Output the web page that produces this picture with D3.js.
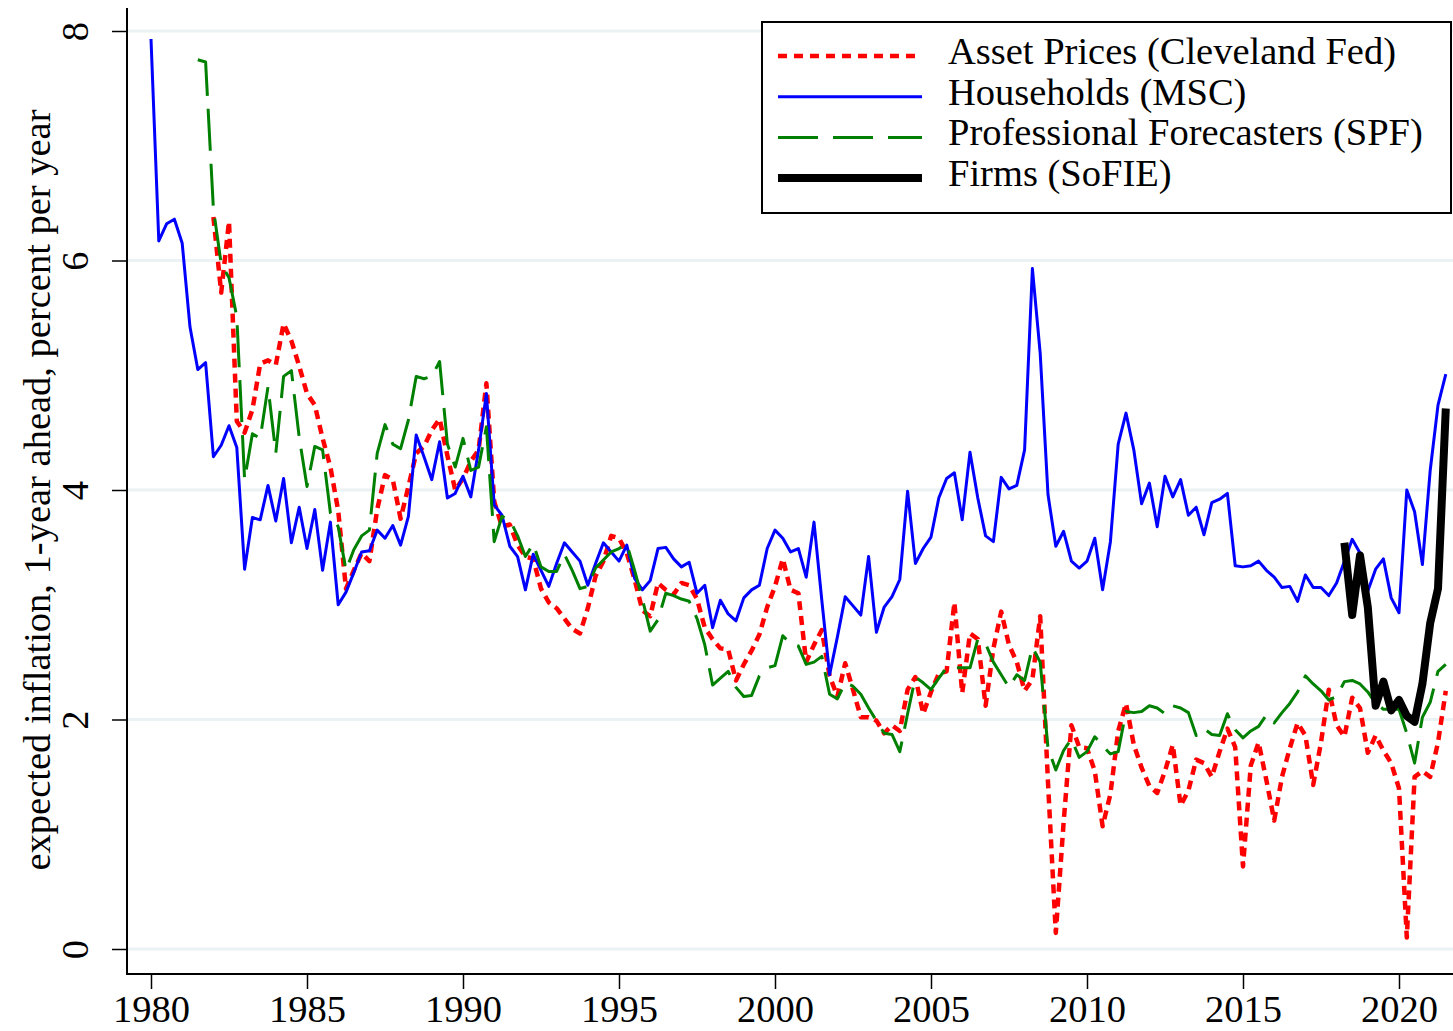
<!DOCTYPE html>
<html>
<head>
<meta charset="utf-8">
<script src="https://cdn.jsdelivr.net/npm/d3@7"></script>
<style>
  body { margin: 0; background: #fff; }
  svg { display: block; }
</style>
</head>
<body>
<div id="viz-container"></div>
<script>
// quarterly series, first value at the given start year (quarter = +0.25)
const householdsStart = 1980;
const households = [
  7.93, 6.17, 6.32, 6.36,  6.15, 5.42, 5.05, 5.11,  4.29, 4.39, 4.56, 4.37,
  3.31, 3.76, 3.74, 4.04,  3.73, 4.10, 3.54, 3.85,  3.49, 3.83, 3.30, 3.72,
  3.00, 3.11, 3.28, 3.46,  3.47, 3.65, 3.58, 3.69,  3.52, 3.77, 4.48, 4.29,
  4.09, 4.42, 3.93, 3.97,  4.12, 3.94, 4.35, 4.84,  3.87, 3.78, 3.51, 3.42,
  3.13, 3.44, 3.30, 3.16,  3.36, 3.54, 3.46, 3.38,  3.17, 3.36, 3.54, 3.46,
  3.38, 3.52, 3.23, 3.13,  3.21, 3.49, 3.50, 3.40,  3.33, 3.37, 3.10, 3.17,
  2.80, 3.04, 2.92, 2.86,  3.06, 3.13, 3.17, 3.49,  3.65, 3.58, 3.46, 3.49,
  3.24, 3.72, 3.04, 2.39,  2.72, 3.07, 2.99, 2.91,  3.42, 2.76, 2.98, 3.07,
  3.22, 3.99, 3.36, 3.49,  3.59, 3.93, 4.10, 4.15,  3.74, 4.33, 3.93, 3.60,
  3.55, 4.11, 4.01, 4.04,  4.35, 5.93, 5.19, 3.96,  3.51, 3.64, 3.38, 3.32,
  3.38, 3.58, 3.13, 3.55,  4.40, 4.67, 4.35, 3.88,  4.06, 3.68, 4.12, 3.94,
  4.09, 3.78, 3.85, 3.61,  3.89, 3.92, 3.97, 3.34,  3.33, 3.34, 3.38, 3.30,
  3.24, 3.15, 3.16, 3.03,  3.26, 3.15, 3.15, 3.08,  3.19, 3.38, 3.57, 3.45,
  3.12, 3.31, 3.40, 3.06,  2.93, 4.00, 3.81, 3.35,  4.17, 4.74, 5.01
];

const assetStart = 1982;
const assetPrices = [
  6.38, 5.72, 6.34, 4.60,  4.50, 4.70, 5.10, 5.13,  5.09, 5.45, 5.30, 5.08,
  4.84, 4.74, 4.45, 4.20,  3.82, 3.14, 3.30, 3.45,  3.38, 3.83, 4.13, 4.09,
  3.75, 4.03, 4.32, 4.38,  4.52, 4.62, 4.30, 4.00,  4.10, 4.25, 4.35, 4.93,
  3.90, 3.68, 3.70, 3.52,  3.42, 3.40, 3.14, 3.02,  2.97, 2.88, 2.79, 2.75,
  2.97, 3.25, 3.38, 3.60,  3.58, 3.45, 3.22, 2.95,  2.90, 3.19, 3.13, 3.09,
  3.19, 3.17, 3.05, 2.80,  2.70, 2.62, 2.61, 2.34,  2.48, 2.60, 2.74, 2.98,
  3.16, 3.40, 3.13, 3.10,  2.50, 2.65, 2.78, 2.38,  2.20, 2.49, 2.26, 2.02,
  2.02, 1.99, 1.88, 1.95,  1.90, 2.26, 2.37, 2.05,  2.24, 2.40, 2.42, 3.02,
  2.23, 2.75, 2.70, 2.12,  2.62, 2.94, 2.65, 2.50,  2.25, 2.35, 2.90, 1.45,
  0.14, 1.10, 1.95, 1.76,  1.75, 1.55, 1.07, 1.35,  1.90, 2.14, 1.78, 1.58,
  1.42, 1.36, 1.55, 1.78,  1.25, 1.38, 1.65, 1.62,  1.50, 1.72, 1.92, 1.76,
  0.72, 1.60, 1.80, 1.47,  1.12, 1.50, 1.75, 1.97,  1.86, 1.43, 1.80, 2.26,
  1.95, 1.85, 2.19, 2.10,  1.71, 1.86, 1.73, 1.62,  1.40, 0.10, 1.50, 1.55,
  1.50, 1.80, 2.25
];

const spfStart = 1981.5;
const forecasters = [
              7.75, 7.73,  6.45, 5.97, 5.85, 5.51,  4.09, 4.49, 4.45, 4.90,
  4.32, 4.99, 5.04, 4.46,  4.03, 4.38, 4.35, 3.80,  3.68, 3.30, 3.48, 3.60,
  3.65, 4.32, 4.57, 4.40,  4.36, 4.61, 4.99, 4.97,  4.99, 5.12, 4.40, 4.20,
  4.45, 4.17, 4.20, 4.55,  3.55, 3.77, 3.74, 3.60,  3.42, 3.53, 3.33, 3.29,
  3.29, 3.44, 3.30, 3.14,  3.16, 3.32, 3.39, 3.46,  3.49, 3.53, 3.30, 3.05,
  2.77, 2.87, 3.10, 3.08,  3.05, 3.03, 2.88, 2.65,  2.30, 2.36, 2.42, 2.28,
  2.20, 2.21, 2.38, 2.45,  2.47, 2.73, 2.66, 2.64,  2.48, 2.50, 2.55, 2.22,
  2.18, 2.32, 2.29, 2.22,  2.10, 1.99, 1.88, 1.87,  1.72, 2.05, 2.37, 2.32,
  2.26, 2.36, 2.45, 2.45,  2.45, 2.45, 2.70, 2.66,  2.50, 2.39, 2.28, 2.39,
  2.34, 2.63, 2.50, 1.75,  1.56, 1.73, 1.83, 1.67,  1.72, 1.85, 1.77, 1.70,
  1.72, 2.07, 2.06, 2.07,  2.12, 2.10, 2.05, 2.12,  2.10, 2.06, 1.86, 1.92,
  1.87, 1.86, 2.05, 1.91,  1.84, 1.90, 1.94, 2.04,  1.97, 2.06, 2.14, 2.24,
  2.38, 2.31, 2.25, 2.17,  2.20, 2.33, 2.34, 2.31,  2.24, 2.14, 2.09, 2.09,
  2.09, 1.88, 1.62, 2.02,  2.15, 2.42, 2.48
];

const firmsStart = 2018.25;
const firms = [
  3.54, 2.91, 3.43,  2.98, 2.12, 2.33, 2.08,  2.17, 2.03, 1.98, 2.31,
  2.84, 3.14, 4.71
];

const xTicks = [1980, 1985, 1990, 1995, 2000, 2005, 2010, 2015, 2020];
const yTicks = [0, 2, 4, 6, 8];
const yTitle = "expected inflation, 1-year ahead, percent per year";

const seriesInfo = [
  {name: "Asset Prices (Cleveland Fed)", start: assetStart, values: assetPrices,
   color: "#ff0000", width: 4.5, dash: "9,6", legendDash: "9,7"},
  {name: "Households (MSC)", start: householdsStart, values: households,
   color: "#0000ff", width: 3, dash: null, legendDash: null},
  {name: "Professional Forecasters (SPF)", start: spfStart, values: forecasters,
   color: "#008000", width: 3, dash: "42,13", legendDash: "40,15"},
  {name: "Firms (SoFIE)", start: firmsStart, values: firms,
   color: "#000000", width: 8, dash: null, legendDash: null}
];

function drawChart() {
  const width = 1453, height = 1031;
  const font = "'Liberation Serif', 'Times New Roman', serif";
  const fontSize = 38.5;
  const axisLeftX = 127, axisBottomY = 974;

  const svg = d3.select("#viz-container").append("svg")
    .attr("width", width)
    .attr("height", height)
    .style("background", "#fff");

  const x = d3.scaleLinear().domain([1980, 2020]).range([151, 1399]);
  const y = d3.scaleLinear().domain([0, 8]).range([949, 31]);

  // gridlines
  svg.append("g")
    .selectAll("line")
    .data(yTicks)
    .join("line")
      .attr("x1", axisLeftX)
      .attr("x2", width)
      .attr("y1", d => y(d))
      .attr("y2", d => y(d))
      .attr("stroke", "#eaf2f3")
      .attr("stroke-width", 3);

  svg.append("clipPath")
      .attr("id", "clip")
    .append("rect")
      .attr("x", axisLeftX)
      .attr("y", 0)
      .attr("width", width - axisLeftX)
      .attr("height", axisBottomY);

  const line = d3.line()
    .x(d => x(d.date))
    .y(d => y(d.value));

  svg.append("g")
    .attr("clip-path", "url(#clip)")
    .selectAll("path")
    .data(seriesInfo)
    .join("path")
      .attr("fill", "none")
      .attr("stroke", d => d.color)
      .attr("stroke-width", d => d.width)
      .attr("stroke-dasharray", d => d.dash)
      .attr("stroke-linejoin", "round")
      .attr("d", s => line(s.values.map((v, i) => ({date: s.start + i / 4, value: v}))));

  // y axis
  svg.append("g")
    .attr("transform", `translate(${axisLeftX},0)`)
    .call(d3.axisLeft(y).tickValues(yTicks).tickSize(15).tickFormat(d3.format("d")))
    .call(g => g.select(".domain").remove())
    .call(g => g.selectAll(".tick line").attr("stroke", "#000").attr("stroke-width", 1.5))
    .call(g => g.selectAll(".tick text")
      .attr("x", 0)
      .attr("y", -39)
      .attr("dy", null)
      .attr("transform", "rotate(-90)")
      .attr("text-anchor", "middle")
      .attr("fill", "#000")
      .attr("font-size", fontSize)
      .attr("font-family", font));

  // x axis
  svg.append("g")
    .attr("transform", `translate(0,${axisBottomY})`)
    .call(d3.axisBottom(x).tickValues(xTicks).tickSize(15).tickFormat(d3.format("d")))
    .call(g => g.select(".domain").remove())
    .call(g => g.selectAll(".tick line").attr("stroke", "#000").attr("stroke-width", 1.5))
    .call(g => g.selectAll(".tick text")
      .attr("y", 48)
      .attr("dy", null)
      .attr("fill", "#000")
      .attr("font-size", fontSize)
      .attr("font-family", font));

  // axis lines
  svg.append("line")
    .attr("x1", axisLeftX).attr("x2", axisLeftX)
    .attr("y1", 8).attr("y2", axisBottomY + 1)
    .attr("stroke", "#000").attr("stroke-width", 2);
  svg.append("line")
    .attr("x1", axisLeftX - 1).attr("x2", width)
    .attr("y1", axisBottomY).attr("y2", axisBottomY)
    .attr("stroke", "#000").attr("stroke-width", 2);

  // y title
  svg.append("text")
    .attr("transform", `translate(50,${y(4)}) rotate(-90)`)
    .attr("text-anchor", "middle")
    .attr("font-size", fontSize)
    .attr("font-family", font)
    .attr("fill", "#000")
    .text(yTitle);

  // legend
  const legend = svg.append("g");
  legend.append("rect")
    .attr("x", 762)
    .attr("y", 22)
    .attr("width", 689)
    .attr("height", 191)
    .attr("fill", "#fff")
    .attr("stroke", "#000")
    .attr("stroke-width", 2);

  const rows = legend.selectAll("g.item")
    .data(seriesInfo)
    .join("g")
      .attr("class", "item")
      .attr("transform", (d, i) => `translate(0,${56 + i * 40.7})`);

  rows.append("line")
    .attr("x1", 778)
    .attr("x2", 922)
    .attr("stroke", d => d.color)
    .attr("stroke-width", d => d.width)
    .attr("stroke-dasharray", d => d.legendDash);

  rows.append("text")
    .attr("x", 948)
    .attr("y", 8)
    .attr("font-size", fontSize)
    .attr("font-family", font)
    .attr("fill", "#000")
    .text(d => d.name);
}

drawChart();
</script>
</body>
</html>
